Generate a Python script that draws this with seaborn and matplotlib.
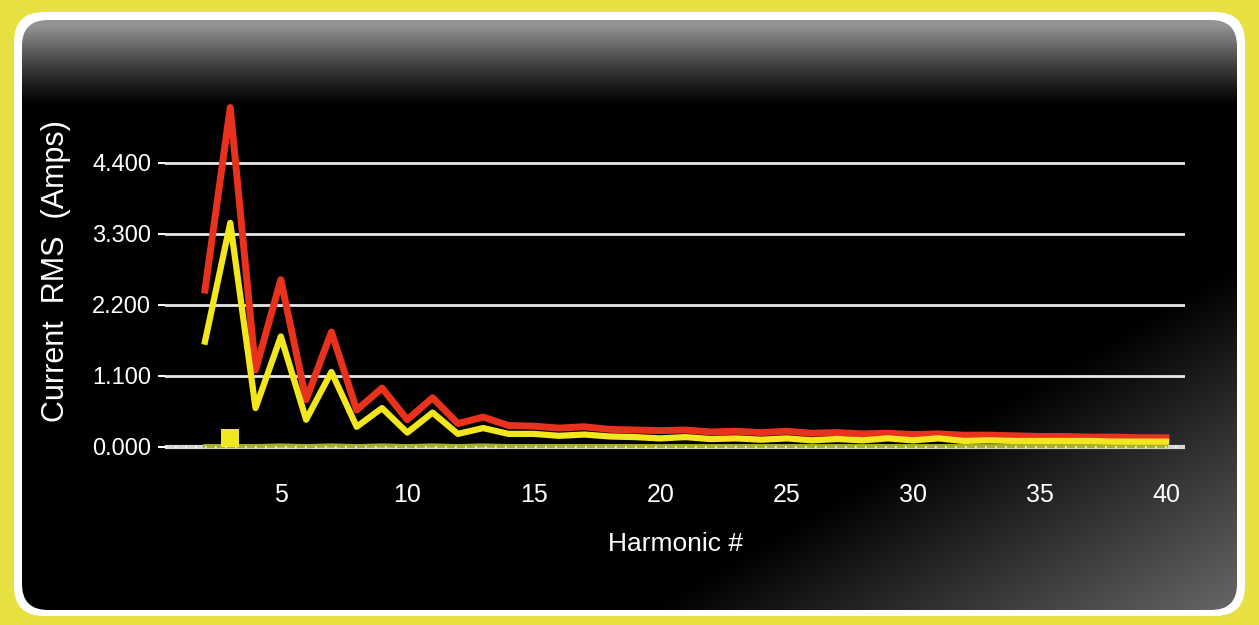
import numpy as np
import pandas as pd
import seaborn as sns
import matplotlib.pyplot as plt
from matplotlib.patches import FancyBboxPatch

# harmonic spectrum values
harmonics = list(range(2, 41))
phase_red = [2.43, 5.26, 1.19, 2.59, 0.73, 1.78, 0.57, 0.91, 0.42, 0.76,
             0.36, 0.46, 0.33, 0.32, 0.29, 0.31, 0.27, 0.26, 0.25, 0.26,
             0.23, 0.24, 0.22, 0.24, 0.21, 0.22, 0.20, 0.21, 0.19, 0.20,
             0.18, 0.18, 0.17, 0.16, 0.16, 0.15, 0.15, 0.14, 0.14]
phase_yellow = [1.63, 3.47, 0.60, 1.71, 0.42, 1.16, 0.31, 0.60, 0.22, 0.53,
                0.20, 0.29, 0.20, 0.20, 0.17, 0.19, 0.16, 0.15, 0.13, 0.15,
                0.12, 0.13, 0.11, 0.13, 0.10, 0.12, 0.10, 0.13, 0.10, 0.13,
                0.09, 0.10, 0.09, 0.09, 0.09, 0.09, 0.08, 0.08, 0.08]
neutral = [0.01, 0.01, 0.01, 0.02, 0.01, 0.02, 0.01, 0.02, 0.01, 0.02,
           0.01, 0.02, 0.01, 0.01, 0.01, 0.01, 0.01, 0.01, 0.01, 0.01,
           0.01, 0.01, 0.01, 0.01, 0.01, 0.01, 0.01, 0.01, 0.01, 0.01,
           0.01, 0.01, 0.01, 0.01, 0.01, 0.01, 0.01, 0.01, 0.01]
marker_x = [3]
marker_y = [0.28]
yticks = [0.0, 1.1, 2.2, 3.3, 4.4]
xticks = [5, 10, 15, 20, 25, 30, 35, 40]

df = pd.DataFrame({"harmonic": harmonics, "red": phase_red,
                   "yellow": phase_yellow, "neutral": neutral})

plt.rcParams["font.family"] = ["Liberation Sans", "DejaVu Sans"]

fig = plt.figure(figsize=(12.59, 6.25), dpi=100)
fig.patch.set_facecolor("#e6e040")

# background panel with gradient
bg = fig.add_axes([0, 0, 1, 1])
bg.axis("off")
H, W = 625, 1259
yy, xx = np.mgrid[0:H, 0:W]
top = np.clip((105 - yy) / 80.0, 0, 1) ** 1.2 * 0.58
diag = np.clip(((xx - 620) / 640.0 + (yy - 250) / 375.0 - 1.0) / 1.1, 0, 1) * 0.48
light = np.clip(top + diag, 0, 1)
img = np.clip(np.dstack([light, light, light * 1.02]), 0, 1)
frame = FancyBboxPatch((14, 12), 1231, 604, boxstyle="round,pad=0,rounding_size=30",
                       facecolor="white", edgecolor="none", zorder=1)
bg.add_patch(frame)
panel = FancyBboxPatch((22, 20), 1215, 590, boxstyle="round,pad=0,rounding_size=26",
                       facecolor="none", edgecolor="none")
bg.add_patch(panel)
im = bg.imshow(img, extent=(0, W, H, 0), aspect="auto", zorder=2)
im.set_clip_path(panel)
bg.set_xlim(0, W)
bg.set_ylim(H, 0)

ax = fig.add_axes([165 / W, (625 - 450) / 625, 1020 / W, 358 / 625])
ax.set_facecolor("none")
ax.set_xlim(0.42, 40.75)
ax.set_ylim(-0.05, 5.5)

for v in yticks[1:]:
    ax.axhline(v, color="#e8e8e8", lw=2, zorder=1)
ax.axhline(0, color="#d8d8d8", lw=3, zorder=1)
ax.axhline(0, color="white", lw=1.2, ls=(0, (1, 5)), zorder=4)

sns.lineplot(data=df, x="harmonic", y="neutral", ax=ax, color="#a8b030", lw=3, zorder=3)
sns.lineplot(data=df, x="harmonic", y="red", ax=ax, color="#e8321e", lw=5, zorder=2)
sns.lineplot(data=df, x="harmonic", y="yellow", ax=ax, color="#f2e61e", lw=4.5, zorder=3)
ax.bar(marker_x, marker_y, width=0.7, color="#f2e61e", zorder=3)

for s in ax.spines.values():
    s.set_visible(False)
ax.tick_params(axis="x", length=0, colors="white", labelsize=18, pad=24)
ax.tick_params(axis="y", length=5, width=1.5, colors="white", labelsize=17, pad=5)
ax.set_yticks(yticks)
ax.set_yticklabels([f"{v:.3f}" for v in yticks])
ax.set_xticks(xticks)
ax.set_xticklabels([str(v) for v in xticks])
ax.set_xlabel("Harmonic #", color="white", fontsize=19, labelpad=18)
ax.set_ylabel("Current  RMS  (Amps)", color="white", fontsize=22, labelpad=15)
ax.grid(False)

fig.savefig("out.png", dpi=100, facecolor=fig.get_facecolor())
